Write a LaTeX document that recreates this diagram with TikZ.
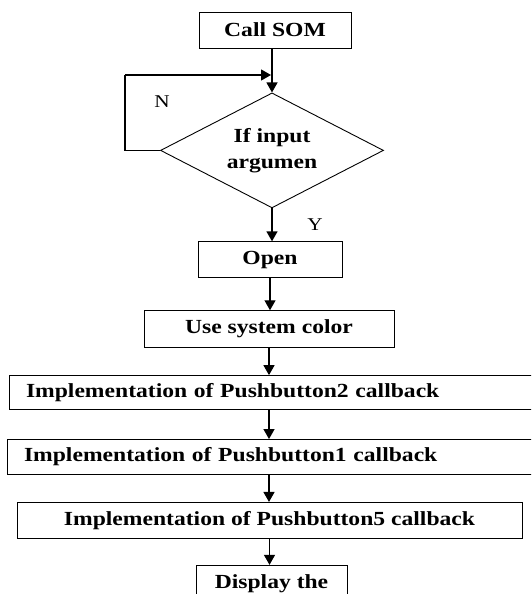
\documentclass[tikz,border=0pt]{standalone}
\usepackage{fontspec}
\setmainfont{Liberation Serif}[FakeStretch=1.18]
\usepackage{tikz}
\usetikzlibrary{shapes,arrows,arrows.meta,positioning}

\begin{document}
\begin{tikzpicture}[
    x=1pt, y=-1pt,
    node distance=30pt,
    box/.style={rectangle, draw, line width=0.9pt, minimum height=36pt, inner sep=0pt, align=center, font=\fontsize{20}{26}\selectfont\bfseries},
    decision/.style={diamond, draw, line width=0.9pt, minimum width=223pt, minimum height=115pt, aspect=1.9, inner sep=0pt, align=center, font=\fontsize{20}{26}\selectfont\bfseries},
    wide/.style={box, align=left, inner xsep=17pt},
    mark label/.style={font=\fontsize{18}{20}\selectfont},
    arrow/.style={-{Triangle[length=10pt,width=11pt]}, line width=1.3pt}
]
\clip (0,0) rectangle (531,594);

\node[box, minimum width=152pt] (som) at (275,30) {Call SOM};
\node[decision, below=44pt of som, xshift=-3pt] (cond) {If input\\argumen};
\node[box, minimum width=144pt, below=33pt of cond, xshift=-2pt] (open) {Open};
\node[box, minimum width=250pt, minimum height=37pt, below=32pt of open, xshift=-1pt] (use) {Use system color};
\node[wide, text width=517pt, minimum height=34pt, below=27pt of use, xshift=15.5pt] (pb2) {Implementation of Pushbutton2 callback};
\node[wide, text width=519pt, minimum height=35pt, below=29pt of pb2, xshift=-1pt] (pb1) {Implementation of Pushbutton1 callback};
\node[box, minimum width=505pt, below=27pt of pb1, xshift=-14pt] (pb5) {Implementation of Pushbutton5 callback};
\node[box, minimum width=151pt, inner ysep=9pt, text depth=30pt, below=26pt of pb5, xshift=2pt] (disp) {Display the};

\node[mark label] (no) at (162,102) {N};
\node[mark label] (yes) at (315,225) {Y};

% loop back when there is no input argument
\coordinate (join) at (125,75);
\draw[arrow] (cond.north |- som.south) -- (cond.north);
\draw[line width=1.1pt] (cond.west) -- (cond.west -| join) -- (join);
\draw[arrow] (join) -- ([xshift=-1pt]cond.north |- join);

\draw[arrow] (cond.south) -- (cond.south |- open.north);
\draw[arrow] (open.south) -- (open.south |- use.north);
\draw[arrow] (use.south) -- (use.south |- pb2.north);
\draw[arrow] (use.south |- pb2.south) -- (use.south |- pb1.north);
\draw[arrow] (use.south |- pb1.south) -- (use.south |- pb5.north);
\draw[arrow] (pb5.south) -- (pb5.south |- disp.north);

\end{tikzpicture}
\end{document}
